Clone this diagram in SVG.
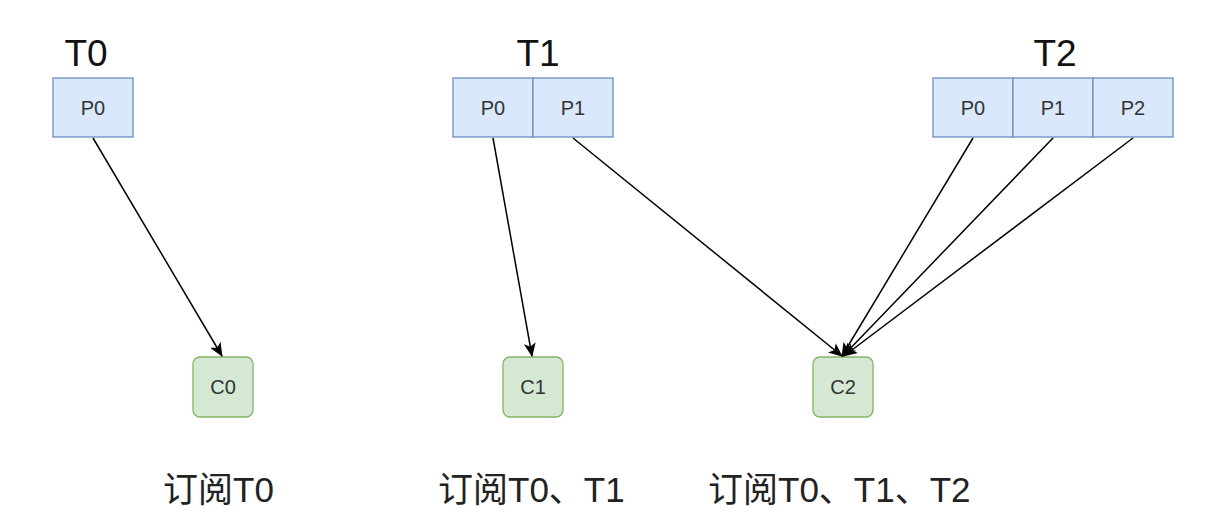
<svg xmlns="http://www.w3.org/2000/svg" width="1215" height="532" viewBox="0 0 1215 532">
<defs>
<style>
.title{font-family:"Liberation Sans",Arial,sans-serif;font-size:37px;fill:#111;text-anchor:middle}
.p{fill:#dae8fc;stroke:#6c8ebf;stroke-width:1.3}
.c{fill:#d5e8d4;stroke:#82b366;stroke-width:1.3}
.lbl{font-family:"Liberation Sans",Arial,sans-serif;font-size:20px;fill:#333;text-anchor:middle}
.sub{font-family:"Liberation Sans","Noto Sans CJK SC",sans-serif;font-size:35px;fill:#222}
.e{stroke:#000;stroke-width:1.5;fill:none;marker-end:url(#arr)}
</style>
<marker id="arr" viewBox="0 0 14 12" refX="13" refY="6" markerWidth="14" markerHeight="12" markerUnits="userSpaceOnUse" orient="auto">
<path d="M0,0 L14,6 L0,12 L3.5,6 Z" fill="#000"/>
</marker>
</defs>
<rect width="1215" height="532" fill="#fff"/>
<g id="T0">
<text class="title" x="86" y="66">T0</text>
<rect class="p" x="53" y="78" width="80" height="59"/>
<text class="lbl" x="93" y="115">P0</text>
</g>
<g id="T1">
<text class="title" x="538" y="66">T1</text>
<rect class="p" x="453" y="78" width="80" height="59"/>
<rect class="p" x="533" y="78" width="80" height="59"/>
<text class="lbl" x="493" y="115">P0</text>
<text class="lbl" x="573" y="115">P1</text>
</g>
<g id="T2">
<text class="title" x="1055" y="66">T2</text>
<rect class="p" x="933" y="78" width="80" height="59"/>
<rect class="p" x="1013" y="78" width="80" height="59"/>
<rect class="p" x="1093" y="78" width="80" height="59"/>
<text class="lbl" x="973" y="115">P0</text>
<text class="lbl" x="1053" y="115">P1</text>
<text class="lbl" x="1133" y="115">P2</text>
</g>
<g id="C0">
<rect class="c" x="193" y="357" width="60" height="60" rx="7"/>
<text class="lbl" x="223" y="394">C0</text>
</g>
<g id="C1">
<rect class="c" x="503" y="357" width="60" height="60" rx="7"/>
<text class="lbl" x="533" y="394">C1</text>
</g>
<g id="C2">
<rect class="c" x="813" y="357" width="60" height="60" rx="7"/>
<text class="lbl" x="843" y="394">C2</text>
</g>
<g id="connectors">
<line class="e" x1="93" y1="138" x2="222" y2="356"/>
<line class="e" x1="493" y1="138" x2="532" y2="356"/>
<line class="e" x1="573" y1="138" x2="842" y2="356"/>
<line class="e" x1="973" y1="138" x2="842" y2="356"/>
<line class="e" x1="1053" y1="138" x2="843" y2="356"/>
<line class="e" x1="1133" y1="138" x2="844" y2="356"/>
</g>
<g id="labels">
<text class="sub" x="163" y="502">订阅T0</text>
<text class="sub" x="438" y="502">订阅T0、T1</text>
<text class="sub" x="708" y="502">订阅T0、T1、T2</text>
</g>
</svg>
